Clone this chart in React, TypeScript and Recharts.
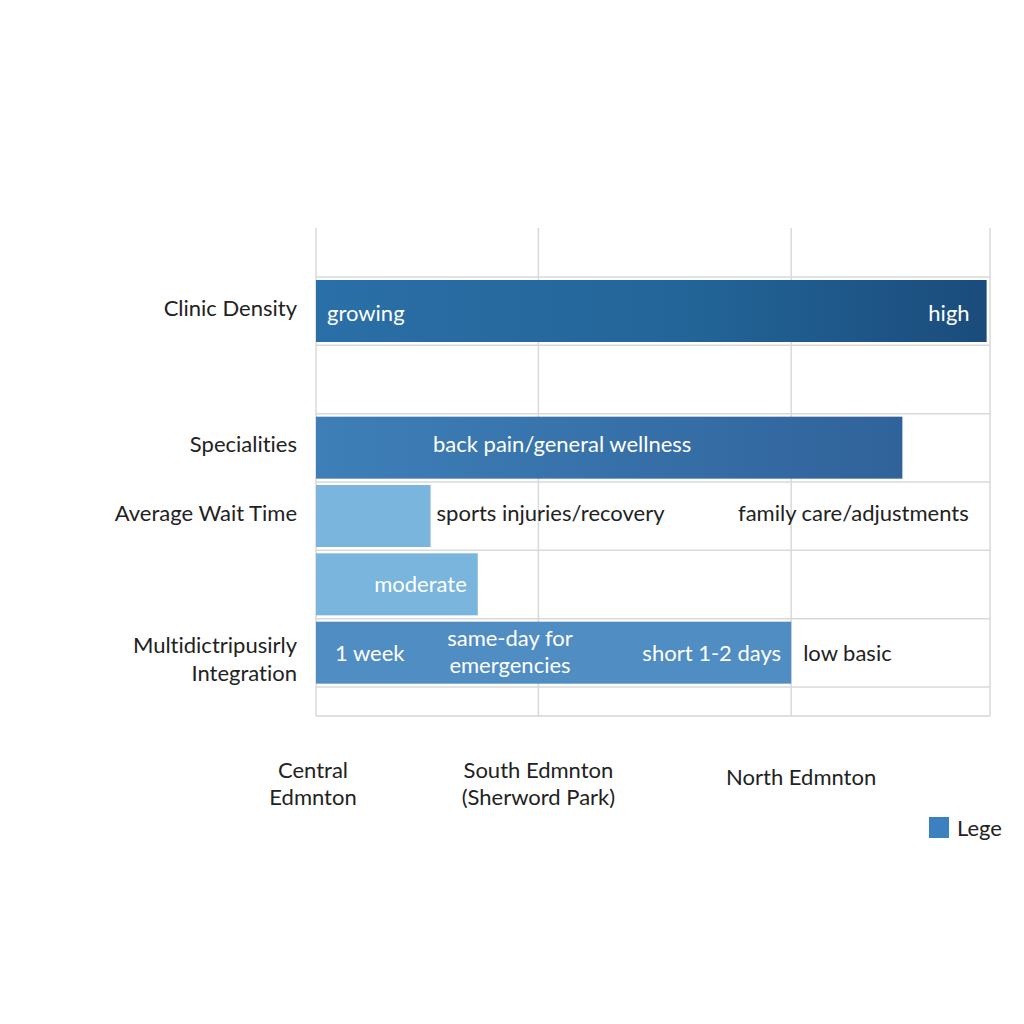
import { BarChart, Bar, XAxis, YAxis, CartesianGrid, Legend, Cell } from 'recharts';

// rows from top to bottom (blank ids are unlabelled rows)
const rowIds = ['density', 'gap', 'specialities', 'wait', 'moderate', 'integration'];
const rowLabels = ['Clinic Density', '', 'Specialities', 'Average Wait Time', '', 'Multidictripusirly\nIntegration'];
const barValues = [99.5, null, 87, 17, 24, 70.5];
const barTexts: string[][] = [
  ['growing', 'high'],
  [],
  ['back pain/general wellness'],
  ['sports injuries/recovery', 'family care/adjustments'],
  ['moderate'],
  ['1 week', 'same-day for\nemergencies', 'short 1-2 days', 'low basic'],
];

// x axis regions
const regionTicks = [0, 33, 70.5, 100];
const regionLabels: string[][] = [['Central', 'Edmnton'], ['South Edmnton', '(Sherword Park)'], ['North Edmnton'], []];
const legendLabel = 'Lege';

const data = rowIds.map((id, i) => ({ id, label: rowLabels[i], value: barValues[i] }));

const rowFills: Record<string, string> = {
  density: 'url(#gradDensity)',
  gap: '#ffffff',
  specialities: 'url(#gradSpec)',
  wait: '#7ab5de',
  moderate: '#7ab5de',
  integration: '#4f8dc3',
};

const FONT = 'Lato, "Open Sans", sans-serif';
const FS = 22;
const PAD_TOP = 49;
const PAD_BOTTOM = 29;
const noLig = { fontVariantLigatures: 'none' as const };

const BarShape = (props: any) => {
  const { x, y, width, height, fill, payload } = props;
  if (!width || width <= 0) return null;
  const idx = rowIds.indexOf(payload.id);
  const t = barTexts[idx] || [];
  const cy = y + height / 2;
  const right = x + width;
  const white = { fill: '#ffffff', fontSize: FS, fontFamily: FONT, dominantBaseline: 'central' as const, style: noLig };
  const dark = { ...white, fill: '#222222' };
  let labels: any = null;
  if (payload.id === 'density') {
    labels = (
      <>
        <text x={x + 11} y={cy + 1} {...white}>{t[0]}</text>
        <text x={right - 17} y={cy + 1} textAnchor="end" {...white}>{t[1]}</text>
      </>
    );
  } else if (payload.id === 'specialities') {
    labels = <text x={x + 117} y={cy - 4} {...white}>{t[0]}</text>;
  } else if (payload.id === 'wait') {
    labels = (
      <>
        <text x={right + 6} y={cy - 4} {...dark}>{t[0]}</text>
        <text x={x + 422} y={cy - 4} {...dark}>{t[1]}</text>
      </>
    );
  } else if (payload.id === 'moderate') {
    labels = <text x={right - 11} y={cy - 1} textAnchor="end" {...white}>{t[0]}</text>;
  } else if (payload.id === 'integration') {
    const lines = t[1].split('\n');
    labels = (
      <>
        <text x={x + 19} y={cy} {...white}>{t[0]}</text>
        <text x={x + 194} y={cy - 15} textAnchor="middle" {...white}>{lines[0]}</text>
        <text x={x + 194} y={cy + 12} textAnchor="middle" {...white}>{lines[1]}</text>
        <text x={right - 10} y={cy} textAnchor="end" {...white}>{t[2]}</text>
        <text x={right + 12} y={cy} {...dark}>{t[3]}</text>
      </>
    );
  }
  return (
    <g>
      <rect x={x} y={y} width={width} height={height} fill={fill} />
      {labels}
    </g>
  );
};

const YTick = (props: any) => {
  const { x, y, payload } = props;
  const idx = rowIds.indexOf(payload.value);
  const label = rowLabels[idx];
  if (!label) return null;
  const lines = label.split('\n');
  const first = lines.length > 1 ? -8 : -4;
  return (
    <g>
      {lines.map((l, i) => (
        <text key={i} x={x} y={y + first + i * 28} textAnchor="end" dominantBaseline="central"
          fill="#222222" fontSize={FS} fontFamily={FONT} style={noLig}>
          {l}
        </text>
      ))}
    </g>
  );
};

const XTick = (props: any) => {
  const { x, y, payload } = props;
  const idx = regionTicks.indexOf(payload.value);
  const lines = regionLabels[idx] || [];
  if (!lines.length) return null;
  const start = lines.length > 1 ? 51 : 58;
  const dx = payload.value === 70.5 ? 10 : payload.value === 0 ? -3 : 0;
  return (
    <g>
      {lines.map((l, i) => (
        <text key={i} x={x + dx} y={y + start + i * 27} textAnchor="middle" dominantBaseline="central"
          fill="#222222" fontSize={FS} fontFamily={FONT} style={noLig}>
          {l}
        </text>
      ))}
    </g>
  );
};

// horizontal grid lines sit on the row boundaries
const hLines = ({ yAxis, offset }: any) => {
  const s = yAxis?.scale;
  const call = typeof s === 'function' ? s : s && typeof s.map === 'function' ? (v: string) => s.map(v) : null;
  if (call && typeof s.bandwidth === 'function') {
    const bw = s.bandwidth();
    const starts = rowIds.map(id => call(id));
    if (starts.every(v => typeof v === 'number' && !isNaN(v))) {
      return [...starts, starts[starts.length - 1] + bw];
    }
  }
  const top = offset.top + PAD_TOP;
  const step = (offset.height - PAD_TOP - PAD_BOTTOM) / rowIds.length;
  return rowIds.map((_, i) => top + i * step).concat(top + rowIds.length * step);
};

const LegendContent = () => (
  <div style={{ display: 'flex', alignItems: 'center', fontFamily: FONT, fontSize: FS, color: '#222' }}>
    <span style={{ display: 'inline-block', width: 20, height: 21, background: '#3b80c0', marginRight: 8 }} />
    <span>{legendLabel}</span>
  </div>
);

export default function App() {
  return (
    <div style={{ position: 'absolute', left: 0, top: 0, width: 1024, height: 1024, background: '#ffffff' }}>
      <BarChart
        width={1024}
        height={1024}
        data={data}
        layout="vertical"
        margin={{ top: 228, right: 34, left: 0, bottom: 208 }}
        barCategoryGap={3}
      >
        <defs>
          <linearGradient id="gradDensity" x1="0" y1="0" x2="1" y2="0">
            <stop offset="0%" stopColor="#2b6fa8" />
            <stop offset="55%" stopColor="#236598" />
            <stop offset="100%" stopColor="#1a4c7c" />
          </linearGradient>
          <linearGradient id="gradSpec" x1="0" y1="0" x2="1" y2="0">
            <stop offset="0%" stopColor="#3e7fb8" />
            <stop offset="100%" stopColor="#30639a" />
          </linearGradient>
        </defs>
        <CartesianGrid stroke="#d9d9d9" strokeWidth={1.5} horizontalCoordinatesGenerator={hLines} />
        <XAxis
          type="number"
          domain={[0, 100]}
          ticks={regionTicks}
          interval={0}
          height={100}
          tick={<XTick />}
          tickLine={false}
          tickSize={0}
          axisLine={{ stroke: '#d4d4d4', strokeWidth: 1.5 }}
        />
        <YAxis
          type="category"
          dataKey="id"
          width={316}
          padding={{ top: PAD_TOP, bottom: PAD_BOTTOM }}
          tick={<YTick />}
          tickSize={0}
          tickMargin={19}
          axisLine={false}
          tickLine={false}
          interval={0}
        />
        <Legend
          layout="horizontal"
          verticalAlign="middle"
          align="center"
          content={<LegendContent />}
          wrapperStyle={{ left: 929, top: 814, width: 95 }}
        />
        <Bar dataKey="value" shape={<BarShape />} isAnimationActive={false}>
          {data.map(d => (
            <Cell key={d.id} fill={rowFills[d.id]} />
          ))}
        </Bar>
      </BarChart>
    </div>
  );
}
